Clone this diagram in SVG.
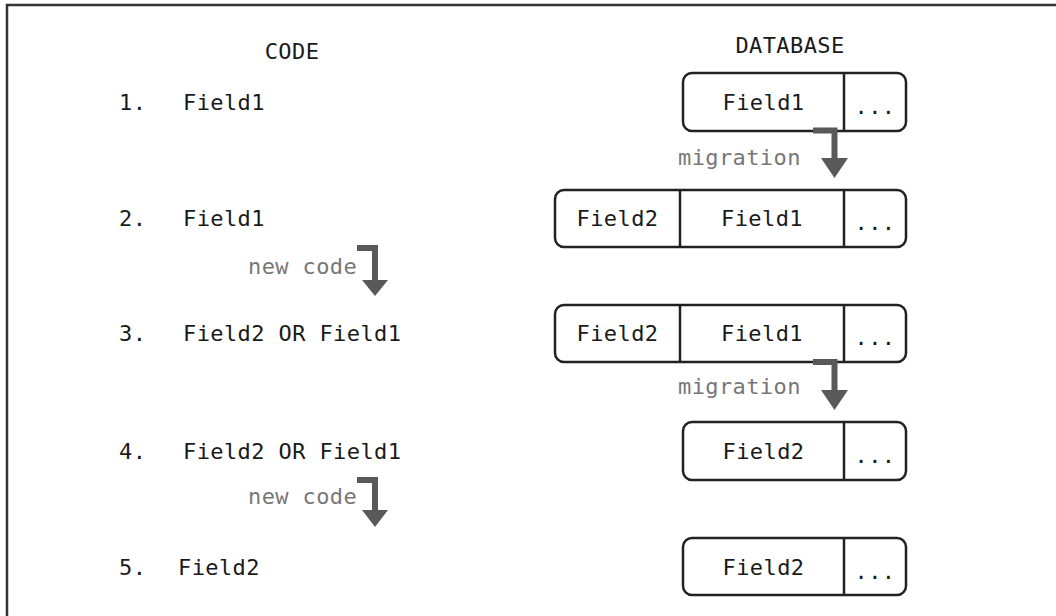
<svg xmlns="http://www.w3.org/2000/svg" width="1056" height="616" viewBox="0 0 1056 616">
<style>
.t{font-family:"DejaVu Sans Mono","Liberation Mono",monospace;font-size:22px;fill:#1a1a1a;letter-spacing:0.4px}
.g{font-family:"DejaVu Sans Mono","Liberation Mono",monospace;font-size:22px;fill:#777;letter-spacing:0.4px}
.m{text-anchor:middle}
.box{fill:#fff;stroke:#222;stroke-width:2.5}
.div{stroke:#222;stroke-width:2.5}
.arr{fill:none;stroke:#595959;stroke-width:6}
.head{fill:#595959}
</style>
<rect width="1056" height="616" fill="#fff"/>
<path d="M7,616 V5 H1056" fill="none" stroke="#333" stroke-width="2.5"/>
<g id="headers">
<text class="t m" x="292" y="59">CODE</text>
<text class="t m" x="790" y="53">DATABASE</text>
</g>
<g id="code-rows">
<text class="t" x="119" y="110">1.</text><text class="t" x="183" y="110">Field1</text>
<text class="t" x="119" y="226">2.</text><text class="t" x="183" y="226">Field1</text>
<text class="t" x="119" y="341">3.</text><text class="t" x="183" y="341">Field2 OR Field1</text>
<text class="t" x="119" y="459">4.</text><text class="t" x="183" y="459">Field2 OR Field1</text>
<text class="t" x="119" y="575">5.</text><text class="t" x="178" y="575">Field2</text>
</g>
<g id="db1">
<rect class="box" x="683" y="73" width="223" height="58" rx="9"/>
<line class="div" x1="844" y1="73" x2="844" y2="131"/>
<text class="t m" x="763.5" y="110">Field1</text>
<text class="t m" x="875" y="114">...</text>
</g>
<g id="db2">
<rect class="box" x="555" y="190" width="351" height="57" rx="9"/>
<line class="div" x1="680" y1="190" x2="680" y2="247"/>
<line class="div" x1="844" y1="190" x2="844" y2="247"/>
<text class="t m" x="617.5" y="226">Field2</text>
<text class="t m" x="762" y="226">Field1</text>
<text class="t m" x="875" y="230">...</text>
</g>
<g id="db3">
<rect class="box" x="555" y="305" width="351" height="57" rx="9"/>
<line class="div" x1="680" y1="305" x2="680" y2="362"/>
<line class="div" x1="844" y1="305" x2="844" y2="362"/>
<text class="t m" x="617.5" y="341">Field2</text>
<text class="t m" x="762" y="341">Field1</text>
<text class="t m" x="875" y="345">...</text>
</g>
<g id="db4">
<rect class="box" x="683" y="422" width="223" height="58" rx="9"/>
<line class="div" x1="844" y1="422" x2="844" y2="480"/>
<text class="t m" x="763.5" y="459">Field2</text>
<text class="t m" x="875" y="463">...</text>
</g>
<g id="db5">
<rect class="box" x="683" y="538" width="223" height="57" rx="9"/>
<line class="div" x1="844" y1="538" x2="844" y2="595"/>
<text class="t m" x="763.5" y="575">Field2</text>
<text class="t m" x="875" y="579">...</text>
</g>
<g id="connectors">
<path class="arr" d="M813,130.5 H834.5 V160"/>
<polygon class="head" points="821,158 848,158 834.5,178"/>
<text class="g" x="678" y="165">migration</text>
<path class="arr" d="M813,362 H834.5 V392"/>
<polygon class="head" points="821,390 848,390 834.5,410"/>
<text class="g" x="678" y="394">migration</text>
<path class="arr" d="M357,248 H375 V282"/>
<polygon class="head" points="362,280 388,280 375,296"/>
<text class="g" x="248" y="274">new code</text>
<path class="arr" d="M357,480 H375 V512"/>
<polygon class="head" points="362,510 388,510 375,527"/>
<text class="g" x="248" y="504">new code</text>
</g>
</svg>
